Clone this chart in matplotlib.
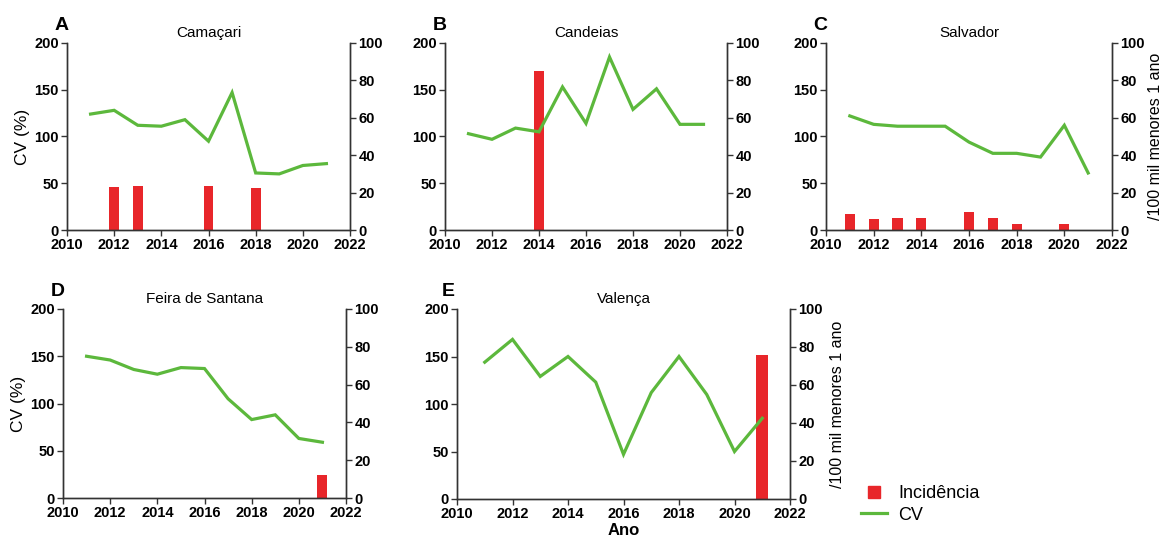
import matplotlib
matplotlib.use("Agg")
import matplotlib.pyplot as plt
from matplotlib.lines import Line2D

plt.rcParams['font.family'] = ['Liberation Sans', 'DejaVu Sans']

anos = list(range(2011, 2022))

# CV (%) por ano, eixo esquerdo
cv_camacari = [124, 128, 112, 111, 118, 95, 147, 61, 60, 69, 71]
cv_candeias = [103, 97, 109, 105, 153, 114, 185, 129, 151, 113, 113]
cv_salvador = [122, 113, 111, 111, 111, 94, 82, 82, 78, 112, 61]
cv_feira = [150, 146, 136, 131, 138, 137, 105, 83, 88, 63, 59]
cv_valenca = [144, 168, 129, 150, 123, 47, 112, 150, 110, 50, 85]

# Incidência /100 mil menores 1 ano, eixo direito
inc_camacari = [0, 22.8, 23.5, 0, 0, 23.5, 0, 22.2, 0, 0, 0]
inc_candeias = [0, 0, 0, 85, 0, 0, 0, 0, 0, 0, 0]
inc_salvador = [8.5, 5.9, 6.2, 6.6, 0, 9.4, 6.6, 3, 0, 3, 0]
inc_feira = [0, 0, 0, 0, 0, 0, 0, 0, 0, 0, 12.3]
inc_valenca = [0, 0, 0, 0, 0, 0, 0, 0, 0, 0, 76]

W, H = 1166, 548
GREEN = '#5cb83c'
RED = '#e8262a'
AXC = '#333333'

fig = plt.figure(figsize=(W / 100, H / 100), dpi=100)


def px_axes(x0, x1, ytop, ybot):
    return fig.add_axes([x0 / W, 1 - ybot / H, (x1 - x0) / W, (ybot - ytop) / H])


# letra, título, cv, incidência, posição (px), ylabel esq., ylabel dir. (labelpad), xlabel
paineis = [
    ('A', 'Camaçari', cv_camacari, inc_camacari, (67, 350, 43, 230), True, None, False),
    ('B', 'Candeias', cv_candeias, inc_candeias, (445, 727, 43, 230), False, None, False),
    ('C', 'Salvador', cv_salvador, inc_salvador, (826, 1112, 43, 230), False, 2, False),
    ('D', 'Feira de Santana', cv_feira, inc_feira, (63, 346, 309, 498), True, None, False),
    ('E', 'Valença', cv_valenca, inc_valenca, (457, 790, 309, 499), False, 5, True),
]

for letra, nome, cv, inc, pos, ylab_l, ylab_r, xlab in paineis:
    ax = px_axes(*pos)
    ax2 = ax.twinx()
    ax.set_zorder(ax2.get_zorder() + 1)
    ax.patch.set_visible(False)

    ax2.bar(anos, inc, width=0.42, color=RED)
    ax.plot(anos, cv, color=GREEN, lw=2.3, solid_joinstyle='miter')

    ax.set_xlim(2010, 2022)
    ax.set_ylim(0, 200)
    ax2.set_ylim(0, 100)
    ax.set_xticks(range(2010, 2023, 2))
    ax.set_yticks(range(0, 201, 50))
    ax2.set_yticks(range(0, 101, 20))

    for a in (ax, ax2):
        a.spines['top'].set_visible(False)
        for s in ('left', 'right', 'bottom'):
            a.spines[s].set_color(AXC)
            a.spines[s].set_linewidth(1.0)
        a.tick_params(length=4, width=1.0, color=AXC, labelsize=10.5, pad=2)
        for t in a.get_xticklabels() + a.get_yticklabels():
            t.set_fontweight('bold')

    ax.set_title(nome, fontsize=11, pad=4)
    ax.text(-0.045, 1.05, letra, transform=ax.transAxes, fontsize=14,
            fontweight='bold', ha='left', va='bottom')
    if ylab_l:
        ax.set_ylabel('CV (%)', fontsize=12.5, labelpad=3)
    if ylab_r is not None:
        ax2.set_ylabel('/100 mil menores 1 ano', fontsize=11.5, labelpad=ylab_r)
    if xlab:
        ax.set_xlabel('Ano', fontsize=12, fontweight='bold', labelpad=1)

handles = [Line2D([], [], marker='s', markersize=8, color=RED, ls='none'),
           Line2D([], [], color=GREEN, lw=2.3)]
fig.legend(handles, ['Incidência', 'CV'], loc='upper left',
           bbox_to_anchor=(845 / W, 1 - 469 / H), frameon=False, fontsize=13,
           handlelength=1.4, handletextpad=0.65, labelspacing=0.25)

fig.savefig('out.png', dpi=100)
